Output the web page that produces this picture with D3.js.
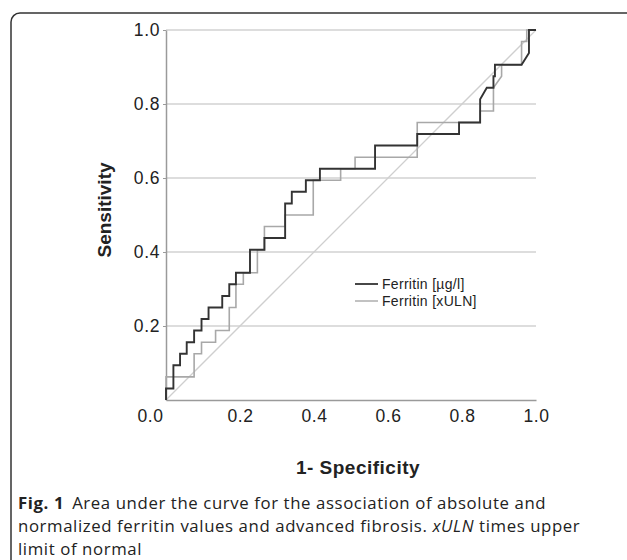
<!DOCTYPE html>
<html>
<head>
<meta charset="utf-8">
<script src="https://cdn.jsdelivr.net/npm/d3@7"></script>
<style>
  body { margin: 0; background: #fff; }
  svg { display: block; }
</style>
</head>
<body>
<svg id="chart" width="627" height="560"></svg>
<script>
// ROC step vertices
var fprAbs = [0, 0, 0.020, 0.020, 0.038, 0.038, 0.056, 0.056, 0.076, 0.076, 0.096, 0.096, 0.115, 0.115,
  0.152, 0.152, 0.171, 0.171, 0.189, 0.189, 0.227, 0.227, 0.266, 0.266, 0.322, 0.322, 0.340, 0.340,
  0.378, 0.378, 0.416, 0.416, 0.565, 0.565, 0.679, 0.679, 0.792, 0.792, 0.849, 0.849, 0.867, 0.885,
  0.885, 0.889, 0.889, 0.961, 0.981, 0.981, 1.0];
var tprAbs = [0, 0.031, 0.031, 0.094, 0.094, 0.125, 0.125, 0.156, 0.156, 0.188, 0.188, 0.219, 0.219, 0.25,
  0.25, 0.281, 0.281, 0.313, 0.313, 0.344, 0.344, 0.406, 0.406, 0.438, 0.438, 0.531, 0.531, 0.563,
  0.563, 0.594, 0.594, 0.625, 0.625, 0.688, 0.688, 0.719, 0.719, 0.75, 0.75, 0.813, 0.844, 0.844,
  0.875, 0.875, 0.906, 0.906, 0.938, 1.0, 1.0];

var fprUln = [0, 0, 0.076, 0.076, 0.096, 0.096, 0.134, 0.134, 0.171, 0.171, 0.189, 0.189, 0.209, 0.209,
  0.247, 0.247, 0.266, 0.266, 0.322, 0.322, 0.398, 0.398, 0.472, 0.472, 0.511, 0.511, 0.679, 0.679,
  0.849, 0.849, 0.885, 0.885, 0.907, 0.907, 0.961, 0.961, 0.975, 0.975, 1.0];
var tprUln = [0, 0.0625, 0.0625, 0.125, 0.125, 0.156, 0.156, 0.188, 0.188, 0.25, 0.25, 0.313, 0.313, 0.344,
  0.344, 0.406, 0.406, 0.469, 0.469, 0.5, 0.5, 0.594, 0.594, 0.625, 0.625, 0.656, 0.656, 0.75,
  0.75, 0.781, 0.781, 0.844, 0.875, 0.906, 0.906, 0.969, 0.969, 1.0, 1.0];

var tickVals = [0, 0.2, 0.4, 0.6, 0.8, 1.0];
var seriesNames = ["Ferritin [µg/l]", "Ferritin [xULN]"];
var seriesColors = ["#333333", "#a8a8a8"];
var xTitle = "1- Specificity";
var yTitle = "Sensitivity";
var captionBold = "Fig. 1";

var svg = d3.select("#chart");

// figure frame (rounded box, runs off the right and bottom)
svg.append("rect")
  .attr("x", 11).attr("y", 13)
  .attr("width", 700).attr("height", 700)
  .attr("rx", 9)
  .attr("fill", "none")
  .attr("stroke", "#333")
  .attr("stroke-width", 1.5);

var margin = {left: 166, top: 30},
    w = 370, h = 370;

var x = d3.scaleLinear().domain([0, 1]).range([0, w]);
var y = d3.scaleLinear().domain([0, 1]).range([h, 0]);

var g = svg.append("g").attr("transform", "translate(" + margin.left + "," + margin.top + ")");

// horizontal gridlines
g.selectAll(".grid")
  .data(tickVals.slice(1))
  .enter().append("line")
    .attr("class", "grid")
    .attr("x1", 0).attr("x2", w)
    .attr("y1", d => y(d)).attr("y2", d => y(d))
    .attr("stroke", "#d2d2d2")
    .attr("stroke-width", 1.5);

// reference diagonal
g.append("line")
  .attr("x1", x(0)).attr("y1", y(0))
  .attr("x2", x(1)).attr("y2", y(1))
  .attr("stroke", "#cfcfcf")
  .attr("stroke-width", 1.3);

var tickFont = function(sel) {
  sel.style("font-family", "'Liberation Sans', Arial, sans-serif")
    .style("font-size", "17.5px")
    .style("letter-spacing", "0.6px")
    .attr("fill", "#222");
};

// y axis
var yAxis = g.append("g")
  .call(d3.axisLeft(y).tickValues(tickVals.slice(1)).tickFormat(d3.format(".1f")).tickSize(3).tickSizeOuter(0));
yAxis.select(".domain").attr("stroke", "#9a9a9a").attr("stroke-width", 1.5);
yAxis.selectAll(".tick line").attr("stroke", "#9a9a9a");
yAxis.selectAll(".tick text").attr("x", -6).call(tickFont);

// x axis
var xAxis = g.append("g")
  .attr("transform", "translate(0," + h + ")")
  .call(d3.axisBottom(x).tickValues(tickVals).tickFormat(d3.format(".1f")).tickSize(0).tickSizeOuter(0));
xAxis.select(".domain").attr("stroke", "#9a9a9a").attr("stroke-width", 1.5);
xAxis.selectAll(".tick text")
  .attr("y", 10)
  .attr("dx", (d, i) => i == 0 ? -16 : 0)
  .call(tickFont);

// ROC curves
var line = d3.line().x(d => x(d[0])).y(d => y(d[1]));

g.append("path")
  .datum(d3.zip(fprUln, tprUln))
  .attr("d", line)
  .attr("fill", "none")
  .attr("stroke", seriesColors[1])
  .attr("stroke-width", 1.6);

g.append("path")
  .datum(d3.zip(fprAbs, tprAbs))
  .attr("d", line)
  .attr("fill", "none")
  .attr("stroke", seriesColors[0])
  .attr("stroke-width", 1.9);

// legend
var legend = svg.selectAll(".legend")
  .data(seriesNames)
  .enter().append("g")
    .attr("class", "legend")
    .attr("transform", (d, i) => "translate(355," + (284 + i * 17) + ")");

legend.append("line")
  .attr("x1", 0).attr("x2", 23)
  .attr("stroke", (d, i) => seriesColors[i])
  .attr("stroke-width", (d, i) => i == 0 ? 1.8 : 1.4);

legend.append("text")
  .attr("x", 27).attr("y", 5)
  .style("font-family", "'Liberation Sans', Arial, sans-serif")
  .style("font-size", "14px")
  .style("letter-spacing", "0.3px")
  .attr("fill", "#222")
  .text(d => d);

// axis titles
svg.append("text")
  .attr("transform", "translate(111,210) rotate(-90)")
  .attr("text-anchor", "middle")
  .style("font-family", "'Liberation Sans', Arial, sans-serif")
  .style("font-size", "19px")
  .style("font-weight", "bold")
  .attr("fill", "#222")
  .text(yTitle);

svg.append("text")
  .attr("x", 358).attr("y", 474)
  .attr("text-anchor", "middle")
  .style("font-family", "'Liberation Sans', Arial, sans-serif")
  .style("font-size", "19px")
  .style("font-weight", "bold")
  .style("letter-spacing", "0.5px")
  .attr("fill", "#222")
  .text(xTitle);

// caption
var cap = svg.append("text")
  .style("font-family", "'Open Sans', 'Noto Sans', sans-serif")
  .style("font-size", "16.8px")
  .style("letter-spacing", "0.6px")
  .attr("fill", "#222");

var l1 = cap.append("tspan").attr("x", 18).attr("y", 509);
l1.append("tspan").style("font-weight", "bold").text(captionBold);
l1.append("tspan").attr("dx", 8).text("Area under the curve for the association of absolute and");

var l2 = cap.append("tspan").attr("x", 18).attr("y", 532);
l2.append("tspan").text("normalized ferritin values and advanced fibrosis. ");
l2.append("tspan").style("font-style", "italic").text("xULN");
l2.append("tspan").text(" times upper");

cap.append("tspan").attr("x", 18).attr("y", 555).text("limit of normal");
</script>
</body>
</html>
